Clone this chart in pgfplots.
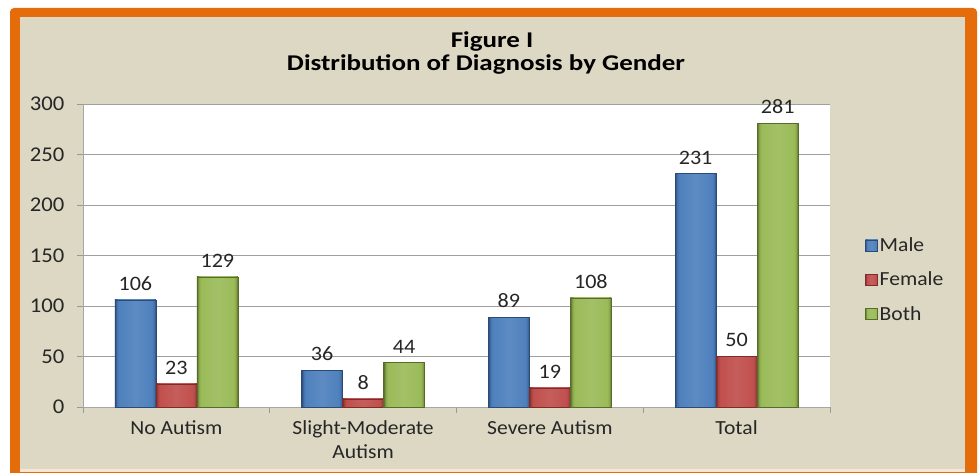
\documentclass[border=0pt]{standalone}
\usepackage{pgfplots}
\pgfplotsset{compat=1.18}
\usepackage{fontspec}
\setmainfont{Carlito}[FakeStretch=1.08]
\newfontfamily\titlefont{Carlito}[FakeStretch=1.2]
\definecolor{bgbeige}{HTML}{DDD8C3}
\definecolor{frameorange}{HTML}{E46C0A}
\definecolor{maleC}{HTML}{4F81BD}
\definecolor{maleD}{HTML}{2A4B78}
\definecolor{femC}{HTML}{C0504D}
\definecolor{femD}{HTML}{7C2C2A}
\definecolor{bothC}{HTML}{9BBB59}
\definecolor{bothD}{HTML}{566C28}
\definecolor{txt}{HTML}{262626}
\pgfdeclarehorizontalshading{maleshade}{100bp}{color(0bp)=(maleD); color(25bp)=(maleD); color(27.5bp)=(maleC!75!maleD); color(30bp)=(maleC); color(50bp)=(maleC!92!white); color(70bp)=(maleC); color(72.5bp)=(maleC!75!maleD); color(75bp)=(maleD); color(100bp)=(maleD)}
\pgfdeclarehorizontalshading{femshade}{100bp}{color(0bp)=(femD); color(25bp)=(femD); color(27.5bp)=(femC!75!femD); color(30bp)=(femC); color(50bp)=(femC!92!white); color(70bp)=(femC); color(72.5bp)=(femC!75!femD); color(75bp)=(femD); color(100bp)=(femD)}
\pgfdeclarehorizontalshading{bothshade}{100bp}{color(0bp)=(bothD); color(25bp)=(bothD); color(27.5bp)=(bothC!75!bothD); color(30bp)=(bothC); color(50bp)=(bothC!92!white); color(70bp)=(bothC); color(72.5bp)=(bothC!75!bothD); color(75bp)=(bothD); color(100bp)=(bothD)}
\pgfplotsset{
  male/.style={draw=maleD, shading=maleshade, bar shift=-41pt},
  fem/.style={draw=femD, shading=femshade, bar shift=0pt},
  both/.style={draw=bothD, shading=bothshade, bar shift=41pt},
}
\begin{document}
\begin{tikzpicture}[x=1pt,y=1pt]
\useasboundingbox (0,0) rectangle (979,472);
\fill[white] (0,0) rectangle (979,472);
\fill[frameorange,rounded corners=4pt] (10,-10) rectangle (977,464);
\fill[bgbeige] (20,0) rectangle (965,455);
\fill[bgbeige!70!orange!40!white] (20,0) rectangle (965,3);
\node[anchor=base,font=\titlefont\fontsize{22.5}{22.5}\selectfont\bfseries,text=black] at (492,424) {Figure I};
\node[anchor=base,font=\titlefont\fontsize{22.5}{22.5}\selectfont\bfseries,text=black] at (486,401) {Distribution of Diagnosis by Gender};
\begin{axis}[
  at={(83pt,65pt)}, anchor=south west,
  scale only axis, width=747pt, height=303pt,
  xmin=-0.5, xmax=3.5, ymin=0, ymax=300,
  ybar, bar width=41pt,
  axis background/.style={fill=white},
  xtick={0,1,2,3},
  xticklabels={No Autism, {Slight-Moderate\\Autism}, Severe Autism, Total},
  xticklabel style={align=center, font=\fontsize{20}{24}\selectfont, text=txt, yshift=-4pt},
  major x tick style={draw=none},
  minor xtick={-0.5,0.5,1.5,2.5,3.5},
  minor x tick style={draw=gray!80, thick},
  minor tick length=6pt,
  ytick={0,50,100,150,200,250,300},
  yticklabel style={font=\fontsize{21}{21}\selectfont, text=txt, xshift=-9pt},
  /pgf/number format/assume math mode=true,
  major y tick style={draw=gray!80},
  major tick length=6pt,
  tick align=outside,
  ymajorgrids, grid style={draw=gray!75, thin},
  axis line style={draw=gray!70},
  axis x line*=bottom, axis y line*=left,
  nodes near coords,
  every node near coord/.append style={font=\fontsize{20.5}{20.5}\selectfont, text=txt, yshift=6pt},
  legend style={at={(1.043,0.42)}, anchor=west, draw=none, fill=none,
    font=\fontsize{20}{20}\selectfont, text=txt, row sep=15pt},
  legend cell align=left,
  legend image code/.code={\draw[#1] (0pt,-5.5pt) rectangle (12pt,5.5pt);},
]
% Male
\addplot[male] coordinates {(0,106)};
% Female
\addplot[fem] coordinates {(0,23)};
% Both
\addplot[both] coordinates {(0,129)};
\addplot[male, forget plot] coordinates {(1,36)};
\addplot[male, forget plot] coordinates {(2,89)};
\addplot[male, forget plot] coordinates {(3,231)};
\addplot[fem, forget plot] coordinates {(1,8)};
\addplot[fem, forget plot] coordinates {(2,19)};
\addplot[fem, forget plot] coordinates {(3,50)};
\addplot[both, forget plot] coordinates {(1,44)};
\addplot[both, forget plot] coordinates {(2,108)};
\addplot[both, forget plot] coordinates {(3,281)};
\legend{Male, Female, Both}
\end{axis}
\end{tikzpicture}
\end{document}
